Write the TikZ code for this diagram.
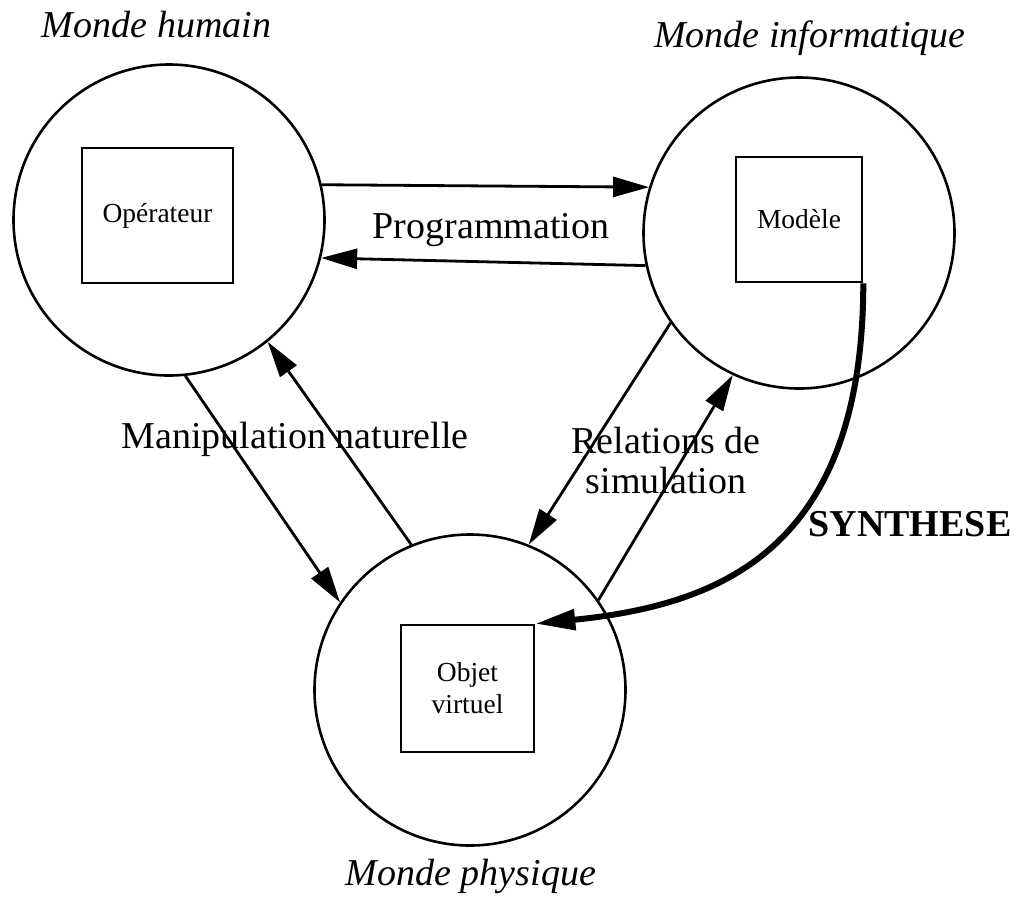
\documentclass[tikz,border=0pt]{standalone}
\usepackage{fontspec}
\setmainfont{Liberation Serif}
\usetikzlibrary{arrows.meta}
\begin{document}
\begin{tikzpicture}[x=1pt,y=-1pt,
  world/.style={circle,draw,line width=2.6pt,minimum size=311pt,inner sep=0pt},
  objbox/.style={rectangle,draw,line width=2.6pt,inner sep=0pt,align=center,
    font=\fontsize{27.5}{32}\selectfont},
  big/.style={font=\fontsize{38}{40}\selectfont,inner sep=0pt,anchor=base},
  title/.style={font=\fontsize{38}{40}\selectfont\itshape,inner sep=0pt,anchor=base},
  link/.style={line width=2.8pt,-{Triangle[length=36pt,width=20pt]}},
  synth/.style={line width=6pt,-{Triangle[length=40pt,width=20pt]}}
]
\path[use as bounding box] (0,0) rectangle (1015,898);

% worlds
\node[world] (H) at (169,220) {};
\node[world] (I) at (799,233) {};
\node[world] (P) at (470,690) {};

% boxes
\node[objbox,minimum width=151pt,minimum height=135pt] (Op) at (157.5,215.5) {Opérateur};
\node[objbox,minimum width=126pt,minimum height=125pt] (Mod) at (799,219.5) {Modèle};
\node[objbox,minimum width=133pt,minimum height=127pt] (Obj) at (467.5,688.5) {Objet\\virtuel};

% titles
\node[title] (tH) at (156.5,37) {Monde humain};
\node[title] (tI) at (810,47) {Monde informatique};
\node[title] (tP) at (471,885) {Monde physique};

% labels
\node[big] (lProg) at (491,238) {Programmation};
\node[big] (lMan) at (295,448) {Manipulation naturelle};
\node[big,align=center] (lSim) at (666,493) {Relations de\\simulation};
\node[big,font=\fontsize{38}{40}\selectfont\bfseries] (lSyn) at (910,536) {SYNTHESE};

% programmation
\draw[link] (H.13) -- (I.163.2);
\draw[link] (I.-168.6) -- (H.-14);

% manipulation naturelle
\draw[link] (H.-84.9) -- (P.146.9);
\draw[link] (P.112.2) -- (H.-51.6);

% relations de simulation
\draw[link] (I.215.3) -- (P.68.7);
\draw[link] (P.35.7) -- (I.-115.1);

% synthese
\draw[synth] (Mod.south east) .. controls (863,550) and (720,605) .. (Obj.north east);
\end{tikzpicture}
\end{document}
